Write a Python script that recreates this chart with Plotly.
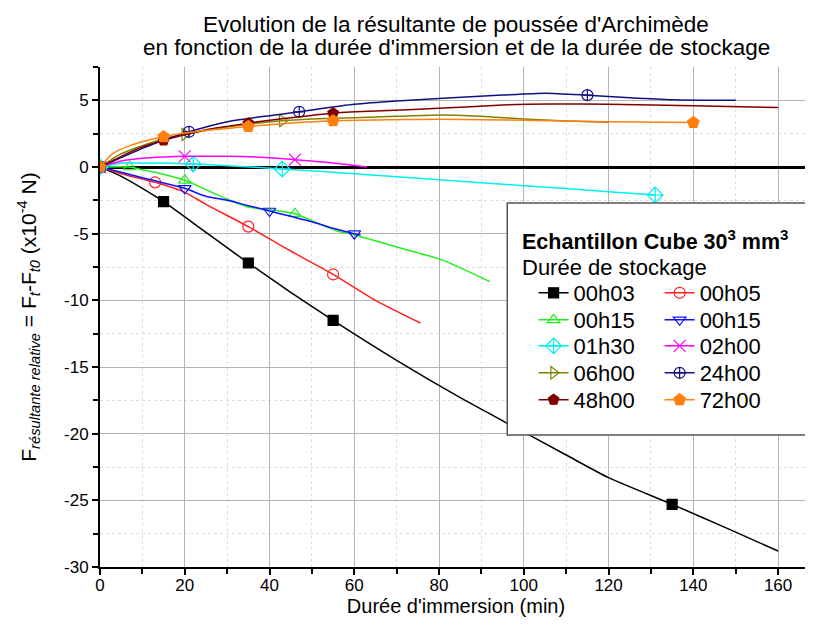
import plotly.graph_objects as go

# ---------------- data ----------------
x_00h03 = [0, 5, 10, 15, 25, 35, 45, 55, 70, 85, 96, 110, 120, 135, 148, 160]
y_00h03 = [0, -0.7, -1.6, -2.6, -4.9, -7.2, -9.4, -11.5, -14.5, -17.3, -19.2, -21.6, -23.3, -25.3, -27.1, -28.8]
mx_00h03 = [0, 15, 35, 55, 135]
my_00h03 = [0, -2.6, -7.2, -11.5, -25.3]

x_00h05 = [0, 5, 10, 13, 20, 25, 35, 45, 49, 55, 65, 75.6]
y_00h05 = [0, -0.5, -0.9, -1.15, -1.9, -2.8, -4.47, -6.3, -7.0, -8.06, -10.0, -11.7]
mx_00h05 = [0, 13, 35, 55]
my_00h05 = [0, -1.15, -4.47, -8.06]

x_00h15a = [0, 7, 10, 13, 20, 25, 30, 35, 40, 46, 52, 56, 60, 70, 81, 92]
y_00h15a = [0, 0, -0.2, -0.4, -1.0, -1.7, -2.4, -3.0, -3.2, -3.5, -4.3, -4.8, -5.1, -6.0, -7.0, -8.6]
mx_00h15a = [0, 7, 20, 46]
my_00h15a = [0, 0, -1.0, -3.5]

x_00h15b = [0, 5, 10, 15, 20, 25, 30, 35, 40, 45, 50, 55, 60, 61.5]
y_00h15b = [0, -0.4, -0.8, -1.2, -1.6, -2.2, -2.5, -2.9, -3.3, -3.7, -4.1, -4.6, -5.0, -5.1]
mx_00h15b = [0, 20, 40, 60]
my_00h15b = [0, -1.6, -3.3, -5.0]

x_01h30 = [0, 5, 10, 15, 22, 30, 43, 60, 80, 100, 120, 131]
y_01h30 = [0, 0.3, 0.3, 0.3, 0.22, 0.1, -0.15, -0.5, -0.95, -1.4, -1.85, -2.1]
mx_01h30 = [0, 22, 43, 131]
my_01h30 = [0, 0.22, -0.15, -2.1]

x_02h00 = [0, 5, 10, 15, 20, 30, 40, 46, 55, 63]
y_02h00 = [0, 0.45, 0.65, 0.75, 0.8, 0.8, 0.7, 0.55, 0.3, 0.0]
mx_02h00 = [0, 20, 46]
my_02h00 = [0, 0.8, 0.55]

x_06h00 = [0, 5, 10, 15, 20, 30, 43, 50, 60, 70, 80, 90, 100, 110, 120]
y_06h00 = [0, 1.0, 1.6, 2.1, 2.45, 3.0, 3.47, 3.6, 3.7, 3.8, 3.9, 3.8, 3.6, 3.45, 3.35]
mx_06h00 = [0, 20, 43]
my_06h00 = [0, 2.45, 3.47]

x_24h00 = [0, 5, 10, 15, 21, 30, 40, 47, 60, 70, 82, 95, 105, 115, 125, 135, 150]
y_24h00 = [0, 0.7, 1.4, 2.0, 2.64, 3.4, 3.85, 4.14, 4.7, 4.95, 5.17, 5.4, 5.54, 5.39, 5.2, 5.05, 5.0]
mx_24h00 = [0, 21, 47, 115]
my_24h00 = [0, 2.64, 4.14, 5.39]

x_48h00 = [0, 5, 10, 15, 25, 35, 45, 55, 65, 80, 95, 106, 120, 140, 160]
y_48h00 = [0, 0.8, 1.5, 2.0, 2.8, 3.29, 3.7, 4.04, 4.2, 4.4, 4.65, 4.72, 4.7, 4.6, 4.46]
mx_48h00 = [0, 15, 35, 55]
my_48h00 = [0, 2.0, 3.29, 4.04]

x_72h00 = [0, 3, 7, 10, 15, 25, 35, 45, 55, 70, 80, 100, 120, 140]
y_72h00 = [0, 1.0, 1.6, 1.9, 2.27, 2.75, 3.04, 3.3, 3.47, 3.55, 3.59, 3.5, 3.4, 3.34]
mx_72h00 = [0, 15, 35, 55, 140]
my_72h00 = [0, 2.27, 3.04, 3.47, 3.34]

x_ticks = [0, 20, 40, 60, 80, 100, 120, 140, 160]
x_tick_labels = ["0", "20", "40", "60", "80", "100", "120", "140", "160"]
y_ticks = [-30, -25, -20, -15, -10, -5, 0, 5]
y_tick_labels = ["-30", "-25", "-20", "-15", "-10", "-5", "0", "5"]

title_lines = ["Evolution de la résultante de poussée d'Archimède",
               "en fonction de la durée d'immersion et de la durée de stockage"]

series = [
    # name, x, y, mx, my, color, symbol, size
    ("00h03", x_00h03, y_00h03, mx_00h03, my_00h03, "#000000", "square", 10),
    ("00h05", x_00h05, y_00h05, mx_00h05, my_00h05, "#FF2020", "circle-open", 11),
    ("00h15", x_00h15a, y_00h15a, mx_00h15a, my_00h15a, "#22EE22", "triangle-up-open", 11),
    ("00h15", x_00h15b, y_00h15b, mx_00h15b, my_00h15b, "#1010FF", "triangle-down-open", 11),
    ("01h30", x_01h30, y_01h30, mx_01h30, my_01h30, "#00F0F0", "diamond-cross-open", 12),
    ("02h00", x_02h00, y_02h00, mx_02h00, my_02h00, "#FF00FF", "x-thin-open", 12),
    ("06h00", x_06h00, y_06h00, mx_06h00, my_06h00, "#808000", "triangle-right-open", 11),
    ("24h00", x_24h00, y_24h00, mx_24h00, my_24h00, "#101080", "circle-cross-open", 11),
    ("48h00", x_48h00, y_48h00, mx_48h00, my_48h00, "#800000", "pentagon", 11),
    ("72h00", x_72h00, y_72h00, mx_72h00, my_72h00, "#FF8010", "pentagon", 12),
]

base_font = "Liberation Sans, Arial, sans-serif"

# legend layout: two columns, five rows (each entry in its own legend box)
col_x = [0.609, 0.786]
row_y = [0.548, 0.494, 0.442, 0.388, 0.334]

fig = go.Figure()
legend_layouts = {}
for i, (nm, xs, ys, mxs, mys, col, sym, sz) in enumerate(series):
    grp = f"g{i}"
    lg = "legend" if i == 0 else f"legend{i + 1}"
    legend_layouts[lg] = dict(x=col_x[i % 2], y=row_y[i // 2], xanchor="left", yanchor="middle",
                              orientation="v", bgcolor="rgba(0,0,0,0)", borderwidth=0,
                              font=dict(family=base_font, size=22, color="#000"), itemwidth=30)
    fig.add_trace(go.Scatter(x=xs, y=ys, mode="lines", line=dict(color=col, width=1.5, shape="spline", smoothing=0.6),
                             legendgroup=grp, showlegend=False, hoverinfo="skip"))
    fig.add_trace(go.Scatter(x=mxs, y=mys, mode="markers",
                             marker=dict(symbol=sym, size=sz, color=col, line=dict(color=col, width=1.2)),
                             legendgroup=grp, showlegend=False))
    fig.add_trace(go.Scatter(x=[None], y=[None], mode="lines+markers", name=nm, legend=lg,
                             line=dict(color=col, width=1.5),
                             marker=dict(symbol=sym, size=sz, color=col, line=dict(color=col, width=1.2)),
                             legendgroup=grp, showlegend=True))

fig.update_layout(
    width=805, height=622,
    margin=dict(l=92, r=1, t=59, b=63, autoexpand=False),
    paper_bgcolor="white", plot_bgcolor="white",
    font=dict(family=base_font, size=16, color="#000"),
    xaxis=dict(range=[0, 168], tickvals=x_ticks, ticktext=x_tick_labels, ticks="outside", ticklen=6, tickwidth=2,
               tickcolor="#000", automargin=False, ticklabelstandoff=-4,
               showline=True, linecolor="#000", linewidth=2, mirror=False,
               showgrid=True, gridcolor="#B4B4B4", gridwidth=1, zeroline=False,
               minor=dict(dtick=10, ticks="outside", ticklen=5, tickwidth=2, tickcolor="#000",
                          showgrid=True, gridcolor="#DDDDDD", griddash="dot", gridwidth=1),
               tickfont=dict(size=17),
               title=dict(text="Durée d'immersion (min)", font=dict(size=20), standoff=4)),
    yaxis=dict(range=[-30, 7.5], tickvals=y_ticks, ticktext=y_tick_labels, ticks="outside", ticklen=6, tickwidth=2,
               tickcolor="#000", automargin=False,
               showline=True, linecolor="#000", linewidth=2, mirror=False,
               showgrid=True, gridcolor="#B4B4B4", gridwidth=1,
               zeroline=True, zerolinecolor="#000", zerolinewidth=2.5,
               minor=dict(dtick=2.5, ticks="outside", ticklen=5, tickwidth=2, tickcolor="#000",
                          showgrid=True, gridcolor="#DDDDDD", griddash="dot", gridwidth=1),
               tickfont=dict(size=17),
               title=dict(text="F<sub><i>résultante relative</i></sub> = F<sub><i>t</i></sub>-F<sub><i>t0</i></sub> (x10<sup>-4</sup> N)",
                          font=dict(size=21), standoff=22)),
    **legend_layouts,
)

# chart title (two lines)
for txt, yy in zip(title_lines, [1.084, 1.038]):
    fig.add_annotation(xref="paper", yref="paper", x=0.5, y=yy, xanchor="center", yanchor="middle",
                       showarrow=False, text=txt, font=dict(family=base_font, size=22.5, color="#000"))

# legend box and its title
fig.add_shape(type="rect", xref="paper", yref="paper", x0=0.572, x1=0.992, y0=0.264, y1=0.728,
              line=dict(color="#555555", width=1.5), fillcolor="white", layer="above")
fig.add_annotation(xref="paper", yref="paper", x=0.590, y=0.654, xanchor="left", yanchor="middle", showarrow=False,
                   text="<b>Echantillon Cube 30<sup>3</sup> mm<sup>3</sup></b>", font=dict(family=base_font, size=21.5))
fig.add_annotation(xref="paper", yref="paper", x=0.590, y=0.600, xanchor="left", yanchor="middle", showarrow=False,
                   text="Durée de stockage", font=dict(family=base_font, size=22))

fig.write_html("out.html")
